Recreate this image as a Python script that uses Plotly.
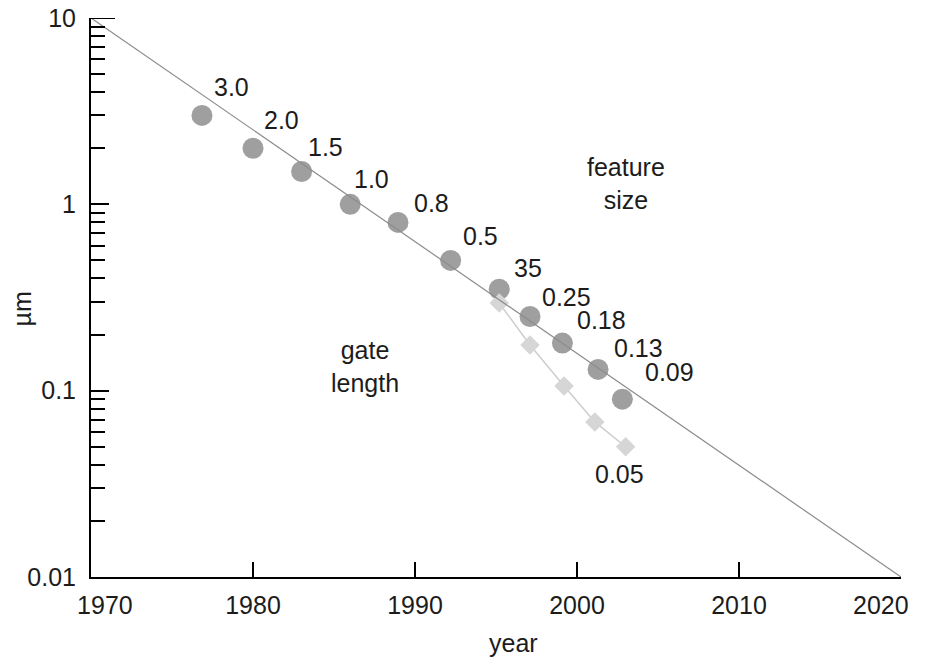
import math
import plotly.graph_objects as go

# Feature size per process generation (circles)
feature_year = [1976.85, 1980.0, 1983.0, 1986.0, 1988.95, 1992.2, 1995.2, 1997.1, 1999.1, 2001.3, 2002.8]
feature_um = [3.0, 2.0, 1.5, 1.0, 0.8, 0.5, 0.35, 0.25, 0.18, 0.13, 0.09]
feature_text = ["3.0", "2.0", "1.5", "1.0", "0.8", "0.5", "35", "0.25", "0.18", "0.13", "0.09"]

# Physical gate length (diamonds)
gate_year = [1995.2, 1997.1, 1999.2, 2001.1, 2003.0]
gate_um = [0.295, 0.176, 0.106, 0.068, 0.05]
gate_text = "0.05"

# Long-term scaling trend line
trend_year = [1970, 2020]
trend_um = [10, 0.01]

# Axis ticks
x_labels = [1970, 1980, 1990, 2000, 2010]
x_end_label = 2020
x_marks = [1980, 1990, 2000, 2010]
y_labels = [0.01, 0.1, 1, 10]
y_label_text = ["0.01", "0.1", "1", "10"]
y_minor = [d * m for d in (0.01, 0.1, 1) for m in range(2, 10)]

FONT = "Liberation Sans, Arial, Helvetica, sans-serif"
TXT = "#1c1c1c"
FS = 25
NB = "\u00a0"

# pixel offsets of each value label from its marker
label_dx = [30, 28, 24, 21, 34, 30, 29, 36, 39, 40, 47]
label_dy = [28, 28, 25, 25, 19, 24, 21, 20, 23, 21, 27]

fig = go.Figure()

fig.add_trace(go.Scatter(
    x=feature_year, y=feature_um, mode="markers",
    marker=dict(symbol="circle", size=21, color="#9f9f9f", line=dict(width=0)),
    hoverinfo="skip", showlegend=False,
))

fig.add_trace(go.Scatter(
    x=gate_year, y=gate_um, mode="lines+markers",
    line=dict(color="#cdcdcd", width=1.5),
    marker=dict(symbol="diamond", size=15, color="#d6d6d6", line=dict(width=0)),
    hoverinfo="skip", showlegend=False,
))

fig.add_trace(go.Scatter(
    x=trend_year, y=trend_um, mode="lines",
    line=dict(color="#8c8c8c", width=1.2),
    hoverinfo="skip", showlegend=False,
))

annotations = []
# annotations on a log axis take log10 positions
for yr, v, t, dx, dy in zip(feature_year, feature_um, feature_text, label_dx, label_dy):
    annotations.append(dict(
        x=yr, y=math.log10(v), xref="x", yref="y", text=t, showarrow=False,
        xshift=dx, yshift=dy, xanchor="center", yanchor="middle",
        font=dict(family=FONT, size=FS, color=TXT),
    ))

annotations.append(dict(
    x=gate_year[-1], y=math.log10(gate_um[-1]), xref="x", yref="y", text=gate_text,
    showarrow=False, xshift=-6, yshift=-27, xanchor="center", yanchor="middle",
    font=dict(family=FONT, size=FS, color=TXT),
))

annotations.append(dict(
    x=2003.0, y=math.log10(1.3), xref="x", yref="y", text="feature<br>size",
    showarrow=False, xanchor="center", yanchor="middle", align="center",
    font=dict(family=FONT, size=FS, color=TXT),
))
annotations.append(dict(
    x=1986.9, y=math.log10(0.135), xref="x", yref="y", text="gate<br>length",
    showarrow=False, xanchor="center", yanchor="middle", align="center",
    font=dict(family=FONT, size=FS, color=TXT),
))

# last year label, right-aligned to the axis end so it stays on the page
annotations.append(dict(
    x=x_end_label, y=0, xref="x", yref="paper", text=str(x_end_label),
    showarrow=False, xanchor="right", yanchor="top", xshift=10, yshift=-12,
    font=dict(family=FONT, size=FS, color=TXT),
))

# axis titles
annotations.append(dict(
    x=0.522, y=-0.118, xref="paper", yref="paper", text="year",
    showarrow=False, xanchor="center", yanchor="middle",
    font=dict(family=FONT, size=FS, color=TXT),
))
annotations.append(dict(
    x=-0.085, y=0.479, xref="paper", yref="paper", text="µm", textangle=-90,
    showarrow=False, xanchor="center", yanchor="middle",
    font=dict(family=FONT, size=FS, color=TXT),
))

# first label nudged inward, clear of the y axis
x_text = [str(v) for v in x_labels]
x_text[0] = NB * 4 + x_text[0]

fig.update_layout(
    width=926, height=660,
    margin=dict(l=91, r=25, t=18, b=83),
    paper_bgcolor="white", plot_bgcolor="white",
    annotations=annotations,
    shapes=[dict(type="line", xref="paper", yref="y", x0=0, x1=24 / 810,
                 y0=10, y1=10, line=dict(color="black", width=2))],
)

fig.update_xaxes(
    range=[1970, 2020], showgrid=False, zeroline=False, automargin=False,
    showline=True, linecolor="black", linewidth=2,
    tickmode="array", tickvals=x_labels, ticktext=x_text,
    ticks="", ticklabelstandoff=5, ticklabeloverflow="allow",
    tickfont=dict(family=FONT, size=FS, color=TXT),
    minor=dict(tickmode="array", tickvals=x_marks, ticks="inside",
               ticklen=15, tickwidth=2, tickcolor="black", showgrid=False),
)

fig.update_yaxes(
    type="log", range=[-2, 1], showgrid=False, zeroline=False, automargin=False,
    showline=True, linecolor="black", linewidth=2,
    tickmode="array", tickvals=y_labels, ticktext=y_label_text,
    ticks="inside", ticklen=18, tickwidth=2, tickcolor="black",
    ticklabelstandoff=8, ticklabeloverflow="allow",
    tickfont=dict(family=FONT, size=FS, color=TXT),
    minor=dict(tickmode="array", tickvals=y_minor, ticks="inside",
               ticklen=14, tickwidth=2, tickcolor="black", showgrid=False),
)

fig.write_html("out.html")
